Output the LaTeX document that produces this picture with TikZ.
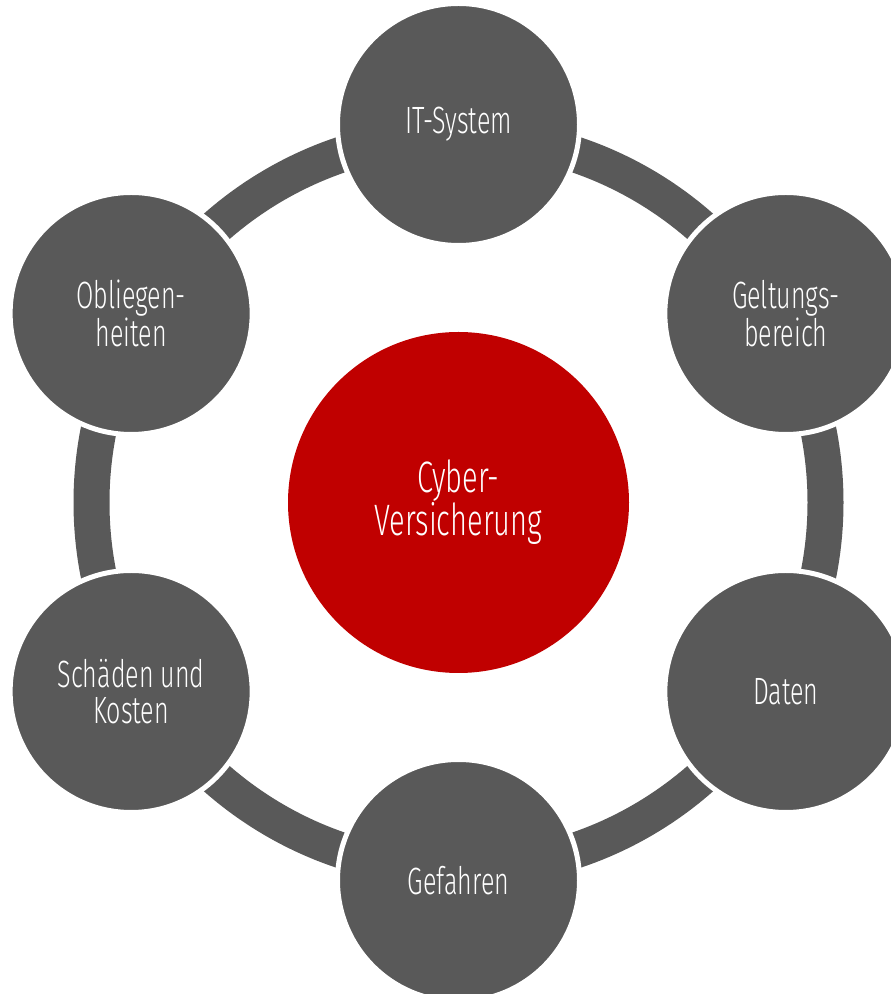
\documentclass[tikz,border=0pt]{standalone}
\usepackage{fontspec}
\usetikzlibrary{calc}
\setmainfont{Fira Sans Light}[FakeStretch=0.66]
\definecolor{ringgray}{RGB}{89,89,89}
\definecolor{corered}{RGB}{192,0,0}
\begin{document}
\begin{tikzpicture}[x=1pt,y=1pt,
  outer/.style={circle, fill=ringgray, draw=white, line width=5pt, minimum size=242pt, inner sep=0pt,
    text=white, align=center, font=\fontsize{38}{36}\selectfont},
  core/.style={circle, fill=corered, minimum size=341pt, inner sep=0pt,
    text=white, align=center, font=\fontsize{44}{42}\selectfont}]
\useasboundingbox (0,0) rectangle (891,994);
\clip (0,0) rectangle (891,994);
\coordinate (c) at (458.5,491.5);
\draw[ringgray, line width=36pt] (c) circle (367);
\node[core] (core) at (c) {Cyber-\\Versicherung};
\node[outer] (it)  at ($(c)+(90:378)$)  {IT-System};
\node[outer] (gel) at ($(c)+(30:378)$)  {Geltungs-\\bereich};
\node[outer] (dat) at ($(c)+(-30:378)$) {Daten};
\node[outer] (gef) at ($(c)+(-90:378)$) {Gefahren};
\node[outer] (sch) at ($(c)+(210:378)$) {Schäden und\\Kosten};
\node[outer] (obl) at ($(c)+(150:378)$) {Obliegen-\\heiten};
\end{tikzpicture}
\end{document}
